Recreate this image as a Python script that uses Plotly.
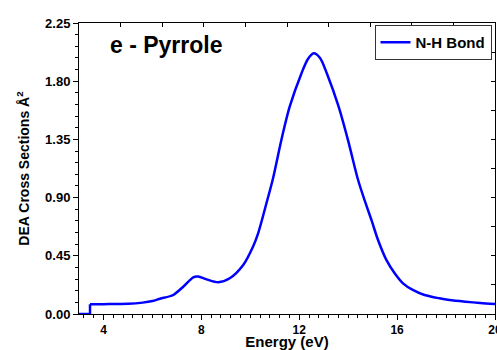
import plotly.graph_objects as go

energy = [3.0, 3.45, 3.45, 4.0, 5.0, 5.6, 6.0, 6.31, 6.85, 7.26, 7.67, 7.87, 8.21, 8.69,
          9.16, 9.71, 10.11, 10.32, 10.66, 10.93, 11.27, 11.61, 12.09, 12.35, 12.59, 12.85,
          13.13, 13.61, 13.99, 14.4, 14.67, 14.95, 15.22, 15.56, 15.9, 16.24, 16.64, 17.12,
          17.73, 18.14, 18.8, 19.4, 20.0]
cross_section = [0.0, 0.0, 0.075, 0.076, 0.079, 0.088, 0.10, 0.118, 0.147, 0.211, 0.284, 0.289,
                 0.268, 0.245, 0.276, 0.379, 0.52, 0.624, 0.856, 1.05, 1.346, 1.603, 1.86, 1.97,
                 2.016, 1.98, 1.86, 1.603, 1.346, 1.04, 0.88, 0.727, 0.572, 0.418, 0.315, 0.237,
                 0.186, 0.147, 0.121, 0.108, 0.095, 0.085, 0.077]
x_ticks = [4, 8, 12, 16, 20]
series_name = "N-H Bond"
title_text = "e - Pyrrole"
x_title = "Energy (eV)"
y_title = "DEA Cross Sections Å<sup>2</sup>"

FONT = "Liberation Sans, Arial, sans-serif"
BLUE = "#0000ff"

fig = go.Figure()
# onset step (straight segments)
fig.add_trace(go.Scatter(x=energy[:3], y=cross_section[:3], mode="lines", name=series_name,
                         legendgroup="nh", showlegend=False,
                         line=dict(color=BLUE, width=2.5)))
# smooth resonance curve
fig.add_trace(go.Scatter(x=energy[2:], y=cross_section[2:], mode="lines", name=series_name,
                         legendgroup="nh", showlegend=True,
                         line=dict(color=BLUE, width=2.5, shape="spline", smoothing=0.8)))
fig.add_trace(go.Scatter(x=[3], y=[0], xaxis="x2", yaxis="y2", mode="lines",
                         line=dict(width=0), showlegend=False, hoverinfo="skip"))

fig.update_layout(
    width=497, height=350,
    margin=dict(l=79, r=2, t=23, b=36),
    paper_bgcolor="white", plot_bgcolor="white",
    font=dict(family=FONT, color="black"),
    xaxis=dict(range=[3, 20.0001], tickvals=x_ticks, showgrid=False, zeroline=False, automargin=False,
               showline=True, linecolor="black", linewidth=1, mirror=True,
               ticks="outside", ticklen=5, tickwidth=1, tickcolor="black",
               ticklabeloverflow="allow",
               tickfont=dict(size=12, family=FONT, weight="bold"),
               minor=dict(dtick=0.4, tick0=0, ticks="outside", ticklen=3, tickcolor="black", showgrid=False),
               title=dict(text=x_title, font=dict(size=15, family=FONT, weight="bold"), standoff=6)),
    yaxis=dict(range=[0, 2.25], dtick=0.45, tick0=0, tickformat=".2f", showgrid=False, zeroline=False,
               automargin=False,
               showline=True, linecolor="black", linewidth=1, mirror=True,
               ticks="outside", ticklen=5, tickwidth=1, tickcolor="black",
               tickfont=dict(size=13, family=FONT, weight="bold"),
               minor=dict(dtick=0.09, tick0=0, ticks="outside", ticklen=3, tickcolor="black", showgrid=False),
               title=dict(text=y_title, font=dict(size=14, family=FONT, weight="bold"), standoff=12)),
    xaxis2=dict(range=[3, 20.0001], overlaying="x", side="top", anchor="y", dtick=1.7, tick0=3,
                ticks="inside", ticklen=4, tickcolor="black", showticklabels=False, automargin=False,
                showgrid=False, zeroline=False, showline=False),
    yaxis2=dict(range=[0, 2.25], overlaying="y", side="right", anchor="x", dtick=0.225, tick0=0,
                ticks="inside", ticklen=4, tickcolor="black", showticklabels=False, automargin=False,
                showgrid=False, zeroline=False, showline=False),
    legend=dict(x=0.9916, y=0.993, xanchor="right", yanchor="top",
                bordercolor="#333333", borderwidth=1, bgcolor="white",
                font=dict(size=15, family=FONT, weight="bold"),
                itemwidth=30, tracegroupgap=0),
    annotations=[dict(text=title_text, xref="paper", yref="paper", x=0.07, y=0.925,
                      xanchor="left", yanchor="middle", showarrow=False,
                      font=dict(size=23, family=FONT, weight="bold"))],
)

fig.write_html("out.html", config={"displayModeBar": False},
               post_script="document.body.style.margin='0';document.body.style.overflow='hidden';")
